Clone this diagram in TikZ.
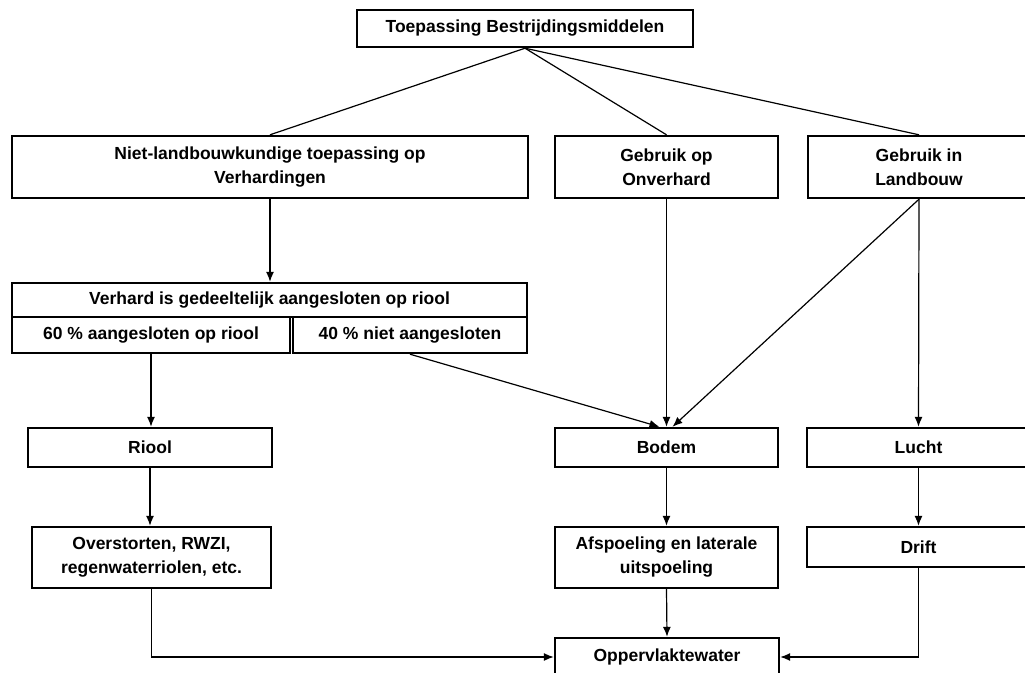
\documentclass[tikz,border=0pt]{standalone}
\usepackage{fontspec}
\setmainfont{Liberation Sans}
\usetikzlibrary{arrows.meta}

\begin{document}
\begin{tikzpicture}
    [x=1pt, y=-1pt,
 block/.style ={rectangle, draw=black, line width=2.4pt, fill=white, align=center, inner sep=2pt, font=\bfseries\fontsize{17.5}{24}\selectfont},
 line/.style ={draw, line width=1.2pt, -{Latex[length=10pt,width=8pt]}},
 link/.style ={draw, line width=1.2pt}]
        \useasboundingbox (0,0) rectangle (1025,672);
        \node[block, minimum width=336pt, minimum height=37pt] (toep) at (525, 28.5) {Toepassing Bestrijdingsmiddelen};
        \node[block, minimum width=516pt, minimum height=62pt] (niet) at (270, 167) {Niet-landbouwkundige toepassing op\\Verhardingen};
        \node[block, minimum width=223pt, minimum height=62pt] (onverhard) at (666.5, 167) {Gebruik op\\Onverhard};
        \node[block, minimum width=222pt, minimum height=62pt] (landbouw) at (919, 167) {Gebruik in\\Landbouw};
        \node[block, minimum width=515pt, minimum height=34pt] (verhard) at (269.5, 300) {Verhard is gedeeltelijk aangesloten op riool};
        \node[block, minimum width=278pt, minimum height=36pt] (p60) at (151, 335) {60 \% aangesloten op riool};
        \node[block, minimum width=234pt, minimum height=36pt] (p40) at (410, 335) {40 \% niet aangesloten};
        \node[block, minimum width=244pt, minimum height=39pt] (riool) at (150, 447.5) {Riool};
        \node[block, minimum width=223pt, minimum height=39pt] (bodem) at (666.5, 447.5) {Bodem};
        \node[block, minimum width=223pt, minimum height=39pt] (lucht) at (918.5, 447.5) {Lucht};
        \node[block, minimum width=239pt, minimum height=61pt] (overstort) at (151.5, 557.5) {Overstorten, RWZI,\\regenwaterriolen, etc.};
        \node[block, minimum width=223pt, minimum height=61pt] (afspoeling) at (666.5, 557.5) {Afspoeling en laterale\\uitspoeling};
        \node[block, minimum width=223pt, minimum height=40pt] (drift) at (918.5, 547) {Drift};
        \node[block, minimum width=224pt, minimum height=38pt] (opp) at (667, 657) {Oppervlaktewater};
        \draw[link] (toep.south) -- (niet.north);
        \draw[link] (toep.south) -- (onverhard.north);
        \draw[link] (toep.south) -- (landbouw.north);
        \draw[line] (niet.south) -- (niet.south |- verhard.north);
        \draw[line] (p60.south) -- (p60.south |- riool.north);
        \draw[line] (riool.south) -- (riool.south |- overstort.north);
        \draw[line] (p40.south) -- ([xshift=-7pt]bodem.north);
        \draw[line] (onverhard.south) -- (bodem.north);
        \draw[line] (landbouw.south) -- ([xshift=6pt]bodem.north);
        \draw[line] (landbouw.south) -- (lucht.north);
        \draw[line] (bodem.south) -- (afspoeling.north);
        \draw[line] (lucht.south) -- (drift.north);
        \draw[line] (afspoeling.south) -- (opp.north);
        \draw[line] (overstort.south) |- (opp.west);
        \draw[line] (drift.south) |- (opp.east);
    \end{tikzpicture}
\end{document}
